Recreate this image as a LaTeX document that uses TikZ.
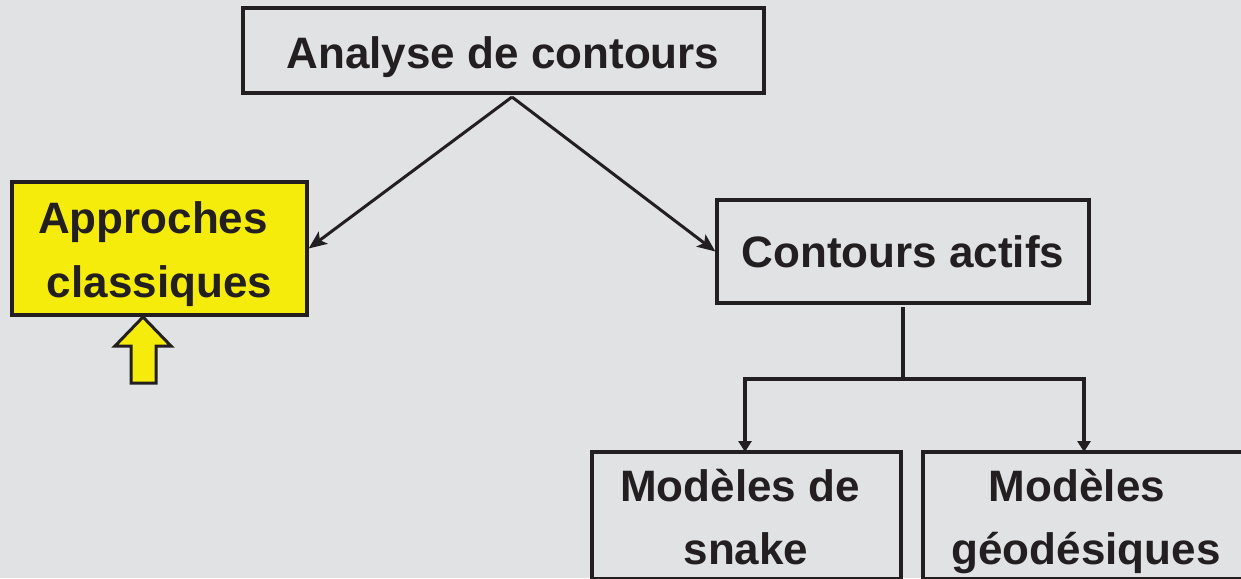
\documentclass[tikz,border=0pt]{standalone}
\usepackage{fontspec}
\setmainfont{Liberation Sans}
\usetikzlibrary{arrows.meta}
\definecolor{bgpanel}{HTML}{E1E2E4}
\definecolor{ink}{HTML}{231F20}
\definecolor{hilite}{HTML}{F5EC0C}
\begin{document}
\begin{tikzpicture}[x=1pt,y=-1pt,
  box/.style={draw=ink, line width=3.3pt, fill=bgpanel, inner sep=0pt},
  lbl/.style={anchor=base, inner sep=0pt, text=ink,
    font=\fontsize{44pt}{53pt}\selectfont\bfseries},
  arr/.style={draw=ink, line width=3pt, -{Stealth[length=18pt,width=15pt,inset=4pt]}},
  arrsmall/.style={draw=ink, line width=3.3pt, -{Triangle[length=11pt,width=13pt]}},
  link/.style={draw=ink, line width=3.3pt}
]
% page and background
\fill[bgpanel] (0,0) rectangle (1241,578);
\useasboundingbox (0,0) rectangle (1241,578);
\clip (0,0) rectangle (1241,578);

% boxes
\node[box, minimum width=521pt, minimum height=85pt] (top) at (503.5,50.5) {};
\node[box, fill=hilite, minimum width=295pt, minimum height=133pt] (classic) at (159.5,248.5) {};
\node[box, minimum width=372pt, minimum height=103pt] (active) at (903,251.5) {};
\node[box, minimum width=309pt, minimum height=127pt] (snake) at (746.5,515.5) {};
\node[box, minimum width=322pt, minimum height=127pt] (geo) at (1084,515.5) {};

% box texts, placed on their baselines
\node[lbl] (topT) at (503,68) {Analyse de contours};
\node[lbl] (classicA) at (153,233) {Approches};
\node[lbl] (classicB) at (159.5,297) {classiques};
\node[lbl] (activeT) at (903,267) {Contours actifs};
\node[lbl] (snakeA) at (740,501) {Mod\`eles de};
\node[lbl] (snakeB) at (746,564) {snake};
\node[lbl] (geoA) at (1077,501) {Mod\`eles};
\node[lbl] (geoB) at (1086,564) {g\'eod\'esiques};

% connectors from the root
\coordinate (split) at (512,97);
\draw[arr] (split) -- (classic.east);
\draw[arr] (split) -- (active.west);

% branch below the active contours box
\coordinate (stem) at (903,307);
\coordinate (branch) at (903,379);
\coordinate (leftdrop) at (745,452);
\coordinate (rightdrop) at (1084,452);
\draw[link] (stem) -- (branch);
\draw[arrsmall] (branch) -| (leftdrop);
\draw[arrsmall] (branch) -| (rightdrop);

% yellow pointer under the classical approaches box
\draw[draw=ink, line width=3pt, fill=hilite, line join=miter]
  (143,317) -- (171,346) -- (156,346) -- (156,383) -- (131,383) -- (131,346) -- (115,346) -- cycle;
\end{tikzpicture}
\end{document}
